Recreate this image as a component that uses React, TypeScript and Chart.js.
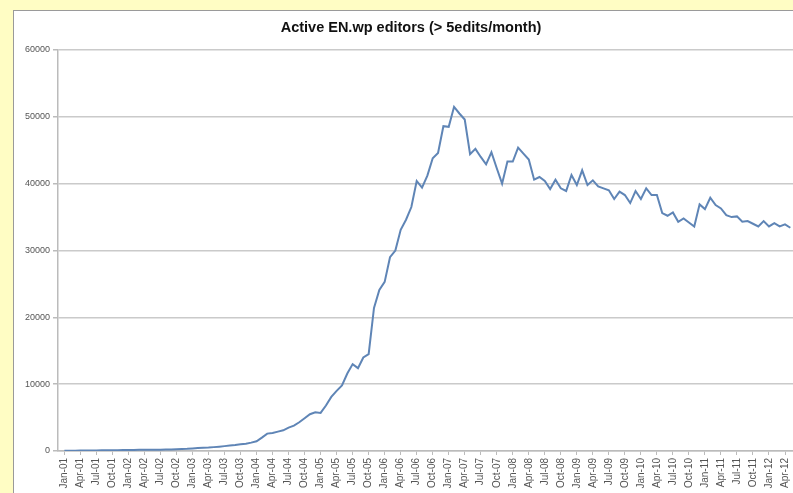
import { useEffect, useRef } from "react";
import { Chart, registerables } from "chart.js";

Chart.register(...registerables);

const TITLE = "Active EN.wp editors (> 5edits/month)";

const years = ["01", "02", "03", "04", "05", "06", "07", "08", "09", "10", "11", "12"];
const quarterMonths = ["Jan", "Apr", "Jul", "Oct"];
const quarterLabels: string[] = [];
years.forEach((y) => quarterMonths.forEach((m) => quarterLabels.push(`${m}-${y}`)));
quarterLabels.splice(46); // Jan-01 ... Apr-12

// monthly active editors, Jan-01 .. May-12
const editors2001 = [30, 40, 50, 60, 70, 80, 90, 100, 110, 120, 130, 140];
const editors2002 = [150, 160, 170, 175, 180, 185, 200, 220, 240, 270, 300, 320];
const editors2003 = [380, 440, 480, 520, 580, 650, 730, 820, 900, 1000, 1100, 1250];
const editors2004 = [1450, 2000, 2600, 2700, 2900, 3100, 3500, 3800, 4300, 4900, 5500, 5800];
const editors2005 = [5700, 6800, 8100, 9000, 9800, 11600, 13000, 12400, 14000, 14500, 21400, 24100];
const editors2006 = [25300, 29000, 30000, 33100, 34600, 36500, 40400, 39400, 41200, 43800, 44600, 48600];
const editors2007 = [48500, 51500, 50500, 49600, 44400, 45200, 44000, 42900, 44700, 42300, 40000, 43300];
const editors2008 = [43300, 45400, 44500, 43600, 40600, 41000, 40400, 39200, 40600, 39300, 38900, 41300];
const editors2009 = [39800, 42000, 39800, 40500, 39600, 39300, 39000, 37700, 38800, 38300, 37100, 38900];
const editors2010 = [37700, 39300, 38300, 38300, 35600, 35200, 35700, 34300, 34800, 34200, 33600, 36900];
const editors2011 = [36200, 37900, 36800, 36300, 35300, 35000, 35100, 34300, 34400, 34000, 33600, 34400];
const editors2012 = [33600, 34100, 33600, 33900, 33400];

const editors = [
  ...editors2001, ...editors2002, ...editors2003, ...editors2004, ...editors2005, ...editors2006,
  ...editors2007, ...editors2008, ...editors2009, ...editors2010, ...editors2011, ...editors2012,
];

const yMin = 0;
const yMax = 60000;
const yStep = 10000;

const FONT = "'Liberation Sans', Arial, sans-serif";

const titlePlugin = {
  id: "customTitle",
  afterDraw(chart: any) {
    const ctx = chart.ctx;
    ctx.save();
    ctx.font = `bold 14.5px ${FONT}`;
    ctx.fillStyle = "#111";
    ctx.textAlign = "center";
    ctx.textBaseline = "middle";
    ctx.fillText(TITLE, 411, 28);
    ctx.restore();
  },
};

export default function App() {
  const ref = useRef<HTMLCanvasElement>(null);

  useEffect(() => {
    const chart = new Chart(ref.current!, {
      type: "line",
      data: {
        datasets: [
          {
            data: editors.map((v, i) => ({ x: i, y: v })),
            borderColor: "#5f85b6",
            borderWidth: 2,
            pointRadius: 0,
            tension: 0,
            fill: false,
          },
        ],
      },
      options: {
        animation: false,
        responsive: false,
        devicePixelRatio: 1,
        layout: { padding: { top: 50, left: 0, right: 0, bottom: 0 } },
        plugins: {
          legend: { display: false },
          tooltip: { enabled: false },
          title: { display: false },
        },
        scales: {
          x: {
            type: "linear",
            min: -1.2,
            max: 137,
            afterBuildTicks: (s: any) => {
              s.ticks = quarterLabels.map((_, k) => ({ value: k * 3 }));
            },
            afterFit: (s: any) => {
              s.height = 49;
            },
            ticks: {
              autoSkip: false,
              maxRotation: 90,
              minRotation: 90,
              padding: 3,
              color: "#555",
              font: { family: FONT, size: 10 },
              callback: (v: any) => quarterLabels[Math.round(Number(v) / 3)] ?? "",
            },
            grid: { display: true, drawOnChartArea: false, drawTicks: true, tickLength: 4, color: "#bbb" },
            border: { color: "#bbb", width: 1.5 },
          },
          y: {
            min: yMin,
            max: yMax,
            afterFit: (s: any) => {
              s.width = 58;
            },
            ticks: {
              stepSize: yStep,
              padding: 3,
              color: "#555",
              font: { family: FONT, size: 9 },
              callback: (v: any) => String(v),
            },
            grid: { color: "#cacaca", lineWidth: 1.5, tickLength: 5, tickColor: "#bbb" },
            border: { color: "#bbb", width: 1.5 },
          },
        },
      },
      plugins: [titlePlugin],
    } as any);
    return () => chart.destroy();
  }, []);

  return (
    <div
      style={{
        position: "fixed",
        left: 0,
        top: 0,
        width: 793,
        height: 493,
        background: "#fffdc4",
        overflow: "hidden",
      }}
    >
      <div
        style={{
          position: "absolute",
          left: 13,
          top: 10,
          width: 800,
          height: 500,
          background: "#ffffff",
          borderLeft: "1px solid #9a9a9a",
          borderTop: "1px solid #9a9a9a",
        }}
      />
      <canvas
        ref={ref}
        width={800}
        height={500}
        style={{ position: "absolute", left: 0, top: 0, width: 800, height: 500 }}
      />
    </div>
  );
}
